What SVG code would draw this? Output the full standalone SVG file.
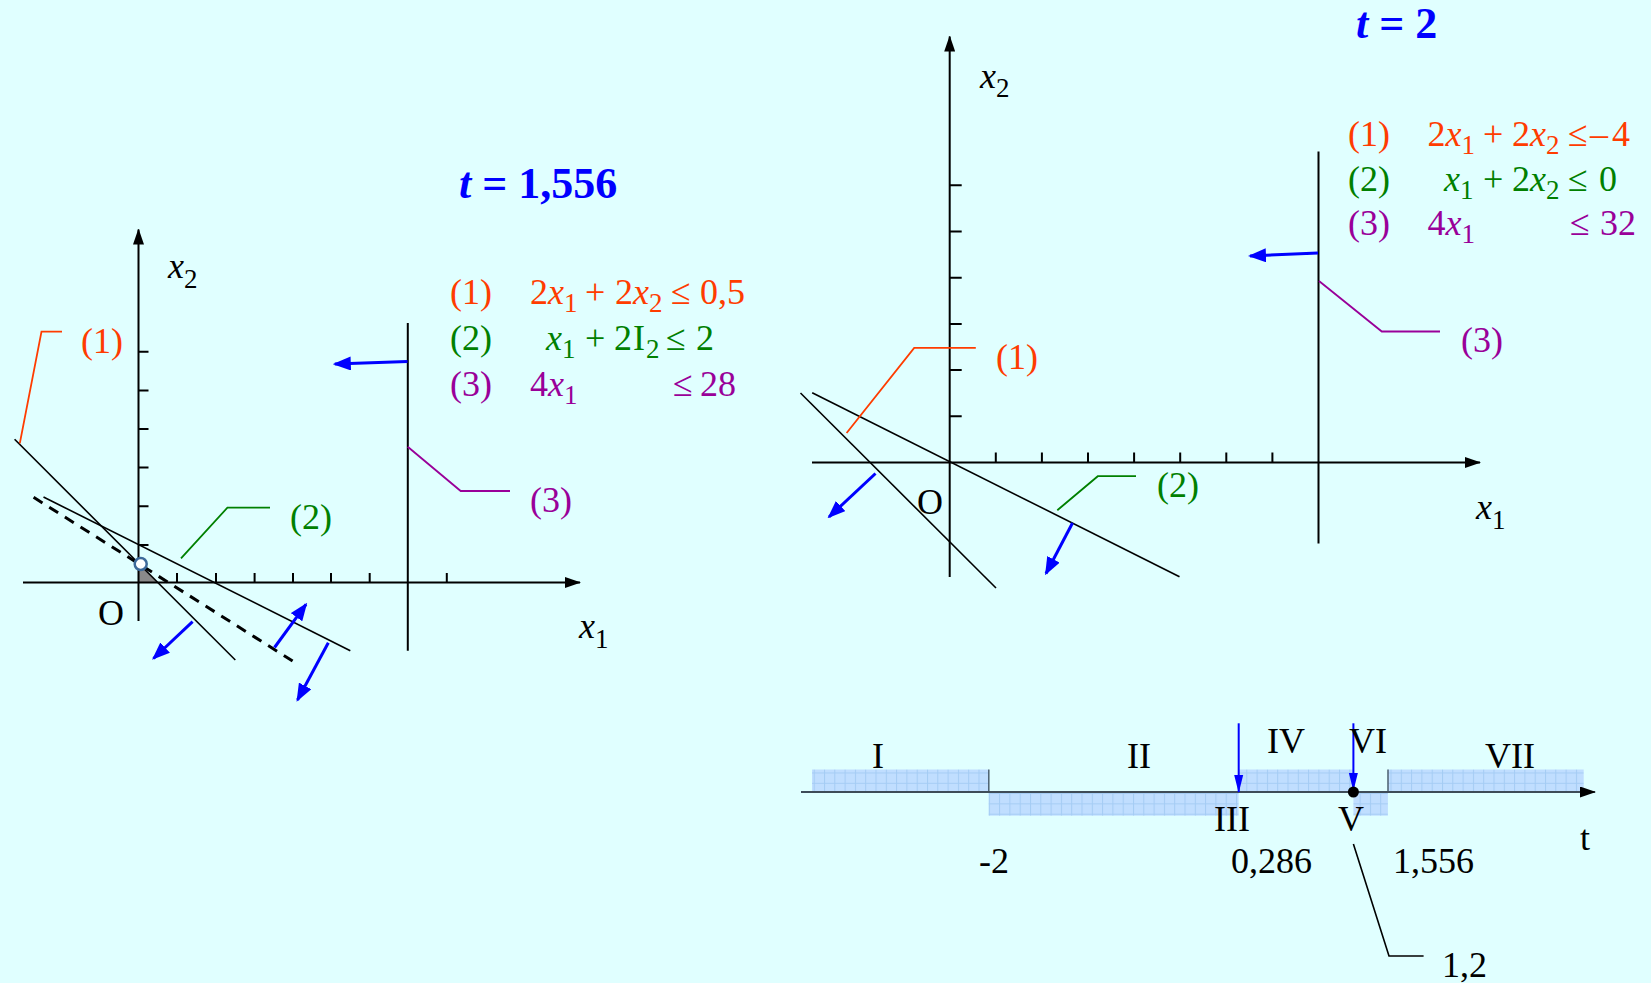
<svg xmlns="http://www.w3.org/2000/svg" width="1651" height="983" viewBox="0 0 1651 983">
<style>
.t{font-family:"Liberation Serif","Times New Roman",serif;font-size:36px}
.i{font-style:italic}
.s{font-size:27px}
.ttl{font-family:"Liberation Serif","Times New Roman",serif;font-size:44px;font-weight:bold;fill:#0000FF}
.ax{stroke:#000;stroke-width:2;fill:none}
.ln{stroke:#000;stroke-width:1.6;fill:none}
.tk{stroke:#000;stroke-width:2;fill:none}
.ba{stroke:#0000FF;stroke-width:3;fill:none;marker-end:url(#ab)}
.bs{stroke:#0000FF;stroke-width:2;fill:none;marker-end:url(#abs)}
.r{fill:#FF3C00}.g{fill:#008000}.p{fill:#990099}
.lr{stroke:#FF3C00;stroke-width:1.8;fill:none}
.lg{stroke:#008000;stroke-width:1.8;fill:none}
.lp{stroke:#990099;stroke-width:1.8;fill:none}
.reg{fill:url(#grid)}
</style>
<defs>
<marker id="ab" markerUnits="userSpaceOnUse" markerWidth="18" markerHeight="14" refX="16" refY="7" orient="auto"><path d="M0,0 L18,7 L0,14 z" fill="#0000FF"/></marker>
<marker id="abs" markerUnits="userSpaceOnUse" markerWidth="18" markerHeight="10" refX="17" refY="5" orient="auto"><path d="M0,0.5 L18,5 L0,9.5 z" fill="#0000FF"/></marker>
<marker id="ak" markerUnits="userSpaceOnUse" markerWidth="16" markerHeight="11" refX="15" refY="5.5" orient="auto"><path d="M0,0 L16,5.5 L0,11 z" fill="#000"/></marker>
<pattern id="grid" width="10.3" height="10.3" patternUnits="userSpaceOnUse"><rect width="10.3" height="10.3" fill="#C0DEFF"/><path d="M0,0.5 H10.3 M0.5,0 V10.3" stroke="#A4CCF4" stroke-width="1"/></pattern>
</defs>
<rect width="1651" height="983" fill="#E0FFFF"/>

<g id="left">
<text class="ttl" x="459" y="198"><tspan font-style="italic">t</tspan> = 1,556</text>
<polygon points="139,564 139,582.5 157.5,582.5" fill="#8A8A8A"/>
<line class="ax" x1="23" y1="582.5" x2="580" y2="582.5" marker-end="url(#ak)"/>
<line class="ax" x1="138.5" y1="621" x2="138.5" y2="229.5" marker-end="url(#ak)"/>
<path class="tk" d="M138.5,545H148.5M138.5,506.3H148.5M138.5,467.6H148.5M138.5,429H148.5M138.5,390.5H148.5M138.5,351.7H148.5"/>
<path class="tk" d="M177,582.5V573M216,582.5V573M254.6,582.5V573M293,582.5V573M331,582.5V573M369.7,582.5V573M446.8,582.5V573"/>
<line class="ln" x1="14.6" y1="439.3" x2="235.3" y2="660"/>
<line class="ln" x1="43.5" y1="497" x2="350.3" y2="650.7"/>
<line x1="33.6" y1="497.3" x2="292.6" y2="661" stroke="#000" stroke-width="3" stroke-dasharray="10.5,8"/>
<line x1="407.8" y1="323" x2="407.8" y2="650.7" stroke="#000" stroke-width="2"/>
<circle cx="140.7" cy="564" r="6" fill="#fff" stroke="#3D6A9A" stroke-width="2.5"/>
<line class="ba" x1="407.5" y1="361.5" x2="334.8" y2="364"/>
<line class="ba" x1="192.6" y1="621.7" x2="153.5" y2="658.5"/>
<line class="ba" x1="274.5" y1="647.5" x2="306" y2="604.3"/>
<line class="ba" x1="328.3" y1="642.8" x2="297.5" y2="700"/>
<polyline class="lr" points="19.8,443.3 41.5,331.7 62,331.7"/>
<polyline class="lg" points="181,558.3 227.4,507.7 270,507.7"/>
<polyline class="lp" points="407.7,446.7 460.7,491 510,491"/>
<text class="t r" x="81" y="353">(1)</text>
<text class="t g" x="290" y="529">(2)</text>
<text class="t p" x="530" y="512">(3)</text>
<text class="t" x="98" y="625">O</text>
<text class="t"><tspan class="i" x="579" y="638">x</tspan><tspan class="s" x="595" y="648">1</tspan></text>
<text class="t"><tspan class="i" x="168" y="278">x</tspan><tspan class="s" x="184" y="288">2</tspan></text>
<text class="t r"><tspan x="450" y="304">(1)</tspan><tspan x="530" y="304">2</tspan><tspan class="i" x="548" y="304">x</tspan><tspan class="s" x="564" y="312">1</tspan><tspan x="585" y="304">+</tspan><tspan x="615" y="304">2</tspan><tspan class="i" x="633" y="304">x</tspan><tspan class="s" x="649" y="312">2</tspan><tspan x="671" y="304">≤</tspan><tspan x="700" y="304">0,5</tspan></text>
<text class="t g"><tspan x="450" y="350">(2)</tspan><tspan class="i" x="546" y="350">x</tspan><tspan class="s" x="562" y="358">1</tspan><tspan x="585" y="350">+</tspan><tspan x="614" y="350">2</tspan><tspan x="633" y="350">I</tspan><tspan class="s" x="646" y="358">2</tspan><tspan x="666" y="350">≤</tspan><tspan x="696" y="350">2</tspan></text>
<text class="t p"><tspan x="450" y="396">(3)</tspan><tspan x="530" y="396">4</tspan><tspan class="i" x="548" y="396">x</tspan><tspan class="s" x="564" y="404">1</tspan><tspan x="673" y="396">≤</tspan><tspan x="700" y="396">28</tspan></text>
</g>

<g id="right">
<text class="ttl" x="1356" y="37.5"><tspan font-style="italic">t</tspan> = 2</text>
<line class="ax" x1="812" y1="462.5" x2="1480" y2="462.5" marker-end="url(#ak)"/>
<line class="ax" x1="949.7" y1="577" x2="949.7" y2="36.5" marker-end="url(#ak)"/>
<path class="tk" d="M949.7,416.3H961.7M949.7,370.1H961.7M949.7,323.9H961.7M949.7,277.7H961.7M949.7,231.5H961.7M949.7,185.3H961.7"/>
<path class="tk" d="M995.8,462.5V452.5M1041.9,462.5V452.5M1088,462.5V452.5M1134.1,462.5V452.5M1180.2,462.5V452.5M1226.3,462.5V452.5M1272.4,462.5V452.5"/>
<line class="ln" x1="800.5" y1="393" x2="996" y2="588"/>
<line class="ln" x1="812.2" y1="392.7" x2="1179.5" y2="576.7"/>
<line x1="1318.5" y1="151.5" x2="1318.5" y2="543.5" stroke="#000" stroke-width="2"/>
<line class="ba" x1="1318" y1="253" x2="1250" y2="256"/>
<line class="ba" x1="875.5" y1="473.5" x2="829" y2="517"/>
<line class="ba" x1="1072.5" y1="523" x2="1046" y2="573.5"/>
<polyline class="lr" points="846.6,433 914.2,347.9 975.8,347.9"/>
<polyline class="lg" points="1057.3,510.3 1097.8,476.2 1136,476.2"/>
<polyline class="lp" points="1319,281 1381.8,331.5 1440,331.5"/>
<text class="t r" x="996" y="369">(1)</text>
<text class="t g" x="1157" y="497">(2)</text>
<text class="t p" x="1461" y="352">(3)</text>
<text class="t" x="917" y="514">O</text>
<text class="t"><tspan class="i" x="1476" y="519">x</tspan><tspan class="s" x="1492" y="529">1</tspan></text>
<text class="t"><tspan class="i" x="980" y="88">x</tspan><tspan class="s" x="996" y="97">2</tspan></text>
<text class="t r"><tspan x="1348" y="146">(1)</tspan><tspan x="1427.5" y="146">2</tspan><tspan class="i" x="1445.5" y="146">x</tspan><tspan class="s" x="1461.5" y="154">1</tspan><tspan x="1483" y="146">+</tspan><tspan x="1512" y="146">2</tspan><tspan class="i" x="1530" y="146">x</tspan><tspan class="s" x="1546" y="154">2</tspan><tspan x="1568" y="146">≤</tspan><tspan x="1590" y="146">–</tspan><tspan x="1612" y="146">4</tspan></text>
<text class="t g"><tspan x="1348" y="190.5">(2)</tspan><tspan class="i" x="1444" y="190.5">x</tspan><tspan class="s" x="1460" y="198.5">1</tspan><tspan x="1483" y="190.5">+</tspan><tspan x="1512" y="190.5">2</tspan><tspan class="i" x="1530" y="190.5">x</tspan><tspan class="s" x="1546" y="198.5">2</tspan><tspan x="1568" y="190.5">≤</tspan><tspan x="1599" y="190.5">0</tspan></text>
<text class="t p"><tspan x="1348" y="235">(3)</tspan><tspan x="1427.5" y="235">4</tspan><tspan class="i" x="1445.5" y="235">x</tspan><tspan class="s" x="1461.5" y="243">1</tspan><tspan x="1570" y="235">≤</tspan><tspan x="1600" y="235">32</tspan></text>
</g>

<g id="timeline">
<rect class="reg" x="812" y="769.5" width="176.6" height="22.5"/>
<rect class="reg" x="988.6" y="792" width="250" height="23.7"/>
<rect class="reg" x="1238.6" y="769.5" width="114.8" height="22.5"/>
<rect class="reg" x="1353.4" y="792" width="34.5" height="23.7"/>
<rect class="reg" x="1387.9" y="769.5" width="195.8" height="22.5"/>
<path d="M988.8,769.5V792M1388,769.5V792" stroke="#4C6070" stroke-width="1.5"/>
<line x1="801" y1="792" x2="1595" y2="792" stroke="#3E4C58" stroke-width="2.2" marker-end="url(#ak)"/>
<line class="bs" x1="1238.7" y1="723.3" x2="1238.7" y2="792"/>
<line class="bs" x1="1353.4" y1="723.3" x2="1353.4" y2="790"/>
<circle cx="1353.4" cy="792" r="5.5" fill="#000"/>
<polyline class="ln" points="1353.4,844 1389,956 1423.6,956"/>
<text class="t" x="872" y="768">I</text>
<text class="t" x="1127" y="768">II</text>
<text class="t" x="1214" y="831">III</text>
<text class="t" x="1267" y="753">IV</text>
<text class="t" x="1349" y="753">VI</text>
<text class="t" x="1485" y="768">VII</text>
<text class="t" x="1338" y="831">V</text>
<text class="t" x="1580" y="850">t</text>
<text class="t" x="979" y="873">-2</text>
<text class="t" x="1231" y="873">0,286</text>
<text class="t" x="1393" y="873">1,556</text>
<text class="t" x="1442" y="977">1,2</text>
</g>
</svg>
